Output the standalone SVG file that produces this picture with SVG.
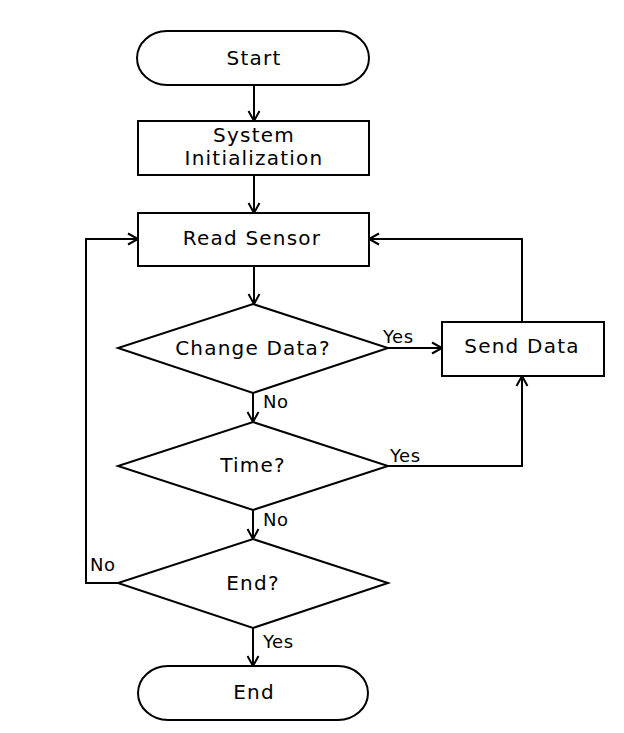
<svg xmlns="http://www.w3.org/2000/svg" width="624" height="733" viewBox="0 0 624 733">
<style>
.shape{fill:#fff;stroke:#000;stroke-width:2}
.edge{fill:none;stroke:#000;stroke-width:2;marker-end:url(#arr)}
.t{font-family:"DejaVu Sans",sans-serif;font-size:20px;letter-spacing:1.2px;text-anchor:middle;fill:#000}
.lbl{font-family:"DejaVu Sans",sans-serif;font-size:18px;letter-spacing:0.5px;fill:#000}
</style>
<defs>
<marker id="arr" markerUnits="userSpaceOnUse" markerWidth="14" markerHeight="14" refX="11" refY="7" orient="auto">
<path d="M1,1.5 L11,7 L1,12.5" fill="none" stroke="#000" stroke-width="2"/>
</marker>
</defs>
<rect width="624" height="733" fill="#fff"/>
<g id="connectors">
<path class="edge" d="M254,85 L254,121"/>
<path class="edge" d="M254,175 L254,213"/>
<path class="edge" d="M254,266 L254,304"/>
<path class="edge" d="M388,348 L442,348"/>
<path class="edge" d="M253,393 L253,422"/>
<path class="edge" d="M388,466 L522,466 L522,376"/>
<path class="edge" d="M522,322 L522,239 L369,239"/>
<path class="edge" d="M253,510 L253,539"/>
<path class="edge" d="M118,583 L86,583 L86,239 L138,239"/>
<path class="edge" d="M253,628 L253,666"/>
<text class="lbl" x="383" y="343">Yes</text>
<text class="lbl" x="263" y="408">No</text>
<text class="lbl" x="390" y="462">Yes</text>
<text class="lbl" x="263" y="526">No</text>
<text class="lbl" x="90" y="571">No</text>
<text class="lbl" x="263" y="648">Yes</text>
</g>
<g id="start">
<path class="shape" d="M167,31 L339,31 A30,27 0 0 1 339,85 L167,85 A30,27 0 0 1 167,31 Z"/>
<text class="t" x="254" y="65">Start</text>
</g>
<g id="init">
<rect class="shape" x="138" y="121" width="231" height="54"/>
<text class="t" x="254" y="142">System</text>
<text class="t" x="254" y="165">Initialization</text>
</g>
<g id="read">
<rect class="shape" x="138" y="213" width="231" height="53"/>
<text class="t" x="252" y="245">Read Sensor</text>
</g>
<g id="change">
<polygon class="shape" points="253,304 388,348 253,393 118,348"/>
<text class="t" x="253" y="355">Change Data?</text>
</g>
<g id="send">
<rect class="shape" x="442" y="322" width="162" height="54"/>
<text class="t" x="522" y="353">Send Data</text>
</g>
<g id="time">
<polygon class="shape" points="253,422 388,466 253,510 118,466"/>
<text class="t" x="253" y="472">Time?</text>
</g>
<g id="endq">
<polygon class="shape" points="253,539 388,583 253,628 118,583"/>
<text class="t" x="253" y="590">End?</text>
</g>
<g id="end">
<path class="shape" d="M168,666 L338,666 A30,27 0 0 1 338,720 L168,720 A30,27 0 0 1 168,666 Z"/>
<text class="t" x="254" y="699">End</text>
</g>
</svg>
